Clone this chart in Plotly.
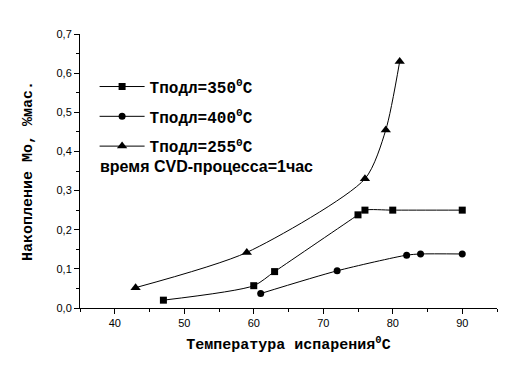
import plotly.graph_objects as go

x350 = [47, 60, 63, 75, 76, 80, 90]
y350 = [0.020, 0.057, 0.093, 0.238, 0.250, 0.250, 0.250]
x400 = [61, 72, 82, 84, 90]
y400 = [0.037, 0.095, 0.135, 0.138, 0.138]
x255 = [43, 59, 76, 79, 81]
y255 = [0.052, 0.142, 0.330, 0.455, 0.630]

names = ["Tподл=350<sup>0</sup>C", "Tподл=400<sup>0</sup>C", "Tподл=255<sup>0</sup>C"]
xticks = [40, 50, 60, 70, 80, 90]
yticks = [0, 0.1, 0.2, 0.3, 0.4, 0.5, 0.6, 0.7]
yticktext = ["0,0", "0,1", "0,2", "0,3", "0,4", "0,5", "0,6", "0,7"]

fig = go.Figure()
series = [(x350, y350, "square", 7), (x400, y400, "circle", 7), (x255, y255, "triangle-up", 9)]
for i, (xs, ys, sym, sz) in enumerate(series):
    fig.add_trace(go.Scatter(
        x=xs, y=ys, mode="lines+markers", name=names[i], legendgroup=str(i),
        line=dict(color="black", width=1, shape="spline", smoothing=0.7),
        marker=dict(symbol=sym, size=sz, color="black"),
    ))

fig.add_annotation(x=0.043, y=0.517, xref="paper", yref="paper", xanchor="left", yanchor="middle",
                   text="<b>время CVD-процесса=1час</b>", showarrow=False,
                   font=dict(family="Liberation Sans", size=16, color="black"))

fig.update_layout(
    width=515, height=370,
    margin=dict(l=72, r=26, t=26, b=70),
    paper_bgcolor="white", plot_bgcolor="white",
    showlegend=True,
    legend=dict(x=0.035, y=0.87, xanchor="left", yanchor="top", bgcolor="rgba(0,0,0,0)",
                font=dict(family="Liberation Mono", size=16, color="black", weight="bold"),
                itemwidth=45, tracegroupgap=6),
    xaxis=dict(range=[35, 95], tickvals=xticks, ticks="outside", ticklen=5, tickcolor="black",
               showline=True, linecolor="black", linewidth=1, showgrid=False, zeroline=False,
               minor=dict(dtick=5, tick0=35, ticks="outside", ticklen=3, tickcolor="black"),
               tickfont=dict(family="Liberation Sans", size=11, color="black"),
               title=dict(text="<b>Температура испарения<sup>0</sup>C</b>", standoff=10,
                          font=dict(family="Liberation Mono", size=15, color="black"))),
    yaxis=dict(range=[0, 0.7], tickvals=yticks, ticktext=yticktext, ticks="outside", ticklen=5,
               tickcolor="black", showline=True, linecolor="black", linewidth=1, showgrid=False,
               zeroline=False,
               minor=dict(dtick=0.05, tick0=0, ticks="outside", ticklen=3, tickcolor="black"),
               tickfont=dict(family="Liberation Sans", size=11, color="black"),
               title=dict(text="<b>Накопление Mo, %мас.</b>", standoff=20,
                          font=dict(family="Liberation Mono", size=15, color="black"))),
)

fig.write_html("out.html")
